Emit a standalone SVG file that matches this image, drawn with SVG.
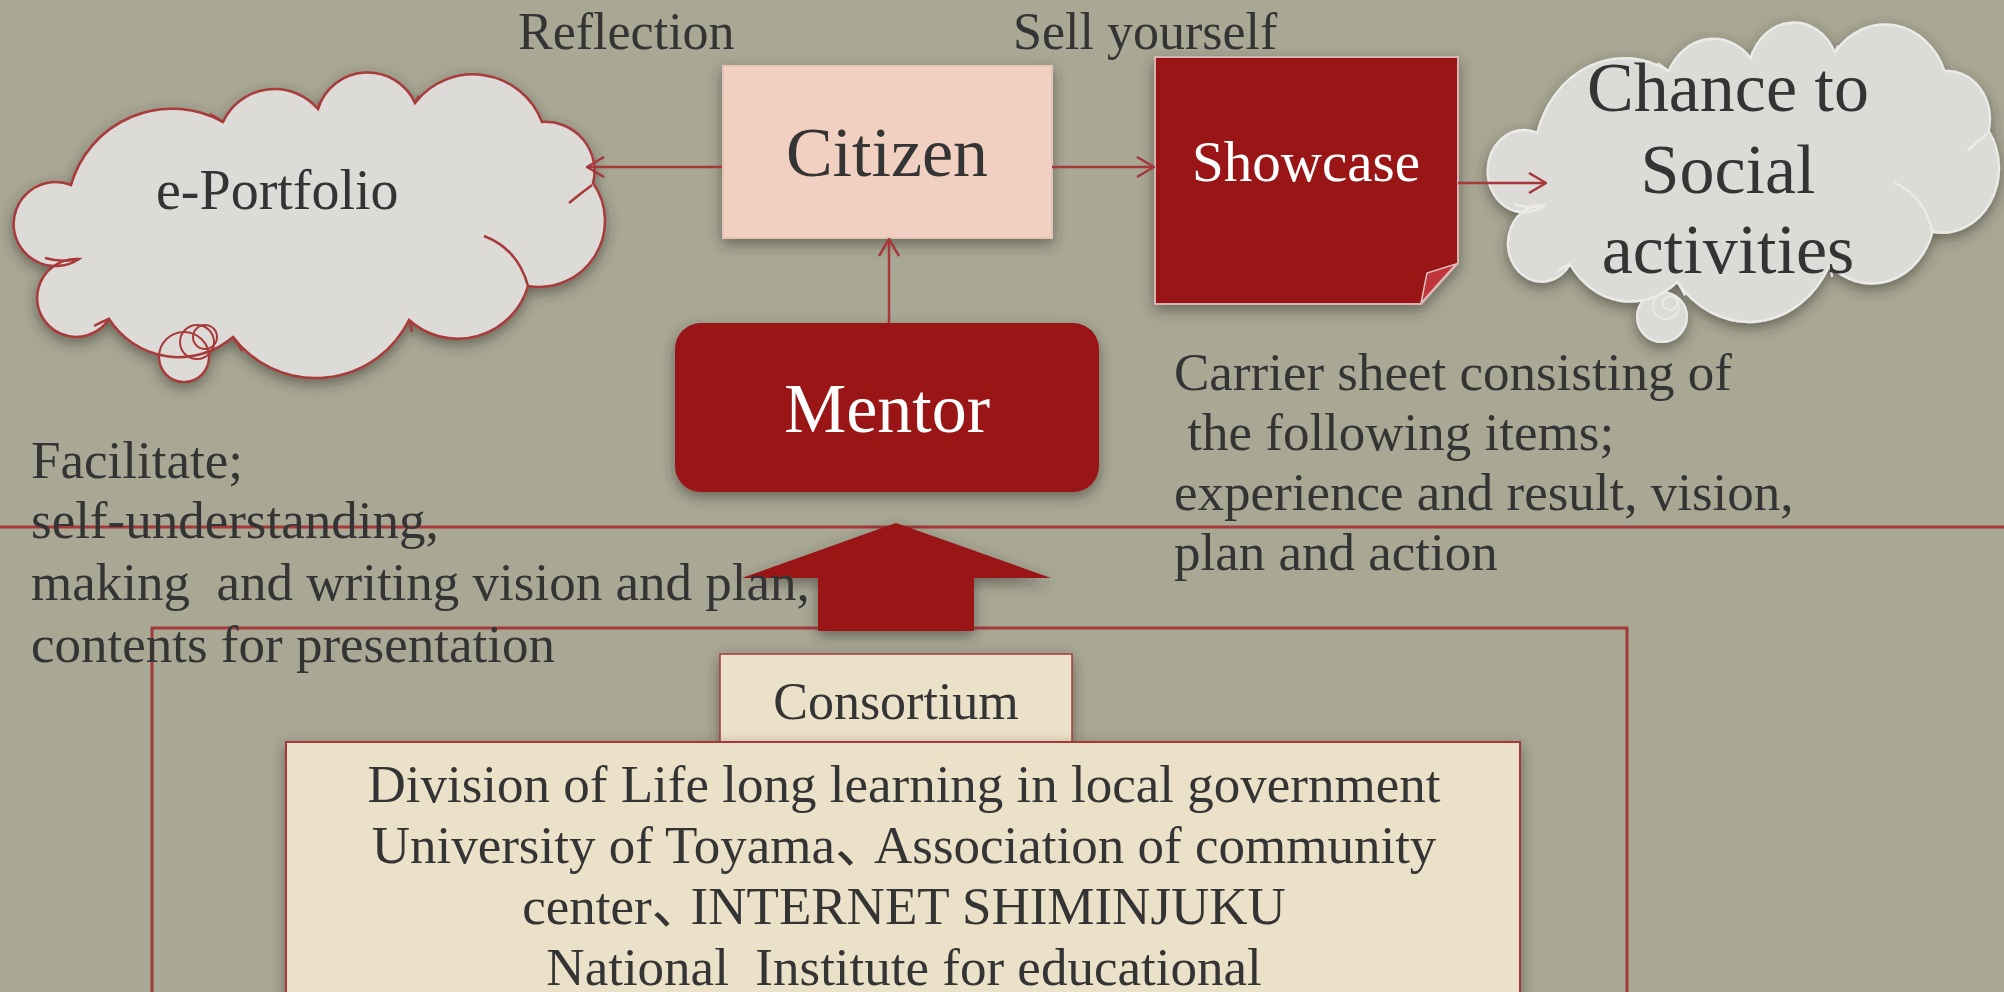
<svg xmlns="http://www.w3.org/2000/svg" xmlns:xlink="http://www.w3.org/1999/xlink" width="2004" height="992" viewBox="0 0 2004 992">
<style>
  .t { font-family: "Liberation Serif", "Noto Sans CJK JP", serif; fill: #343434; }
  .w { font-family: "Liberation Serif", "Noto Sans CJK JP", serif; fill: #ffffff; }
  .red { fill: #9a1218; }
  .beige { fill: #ebe0c8; stroke: #a5383b; }
  .conn { fill: none; stroke: #a5383b; stroke-width: 2.5; }
</style>
<defs>
  <filter id="sh" x="-20%" y="-20%" width="140%" height="160%">
    <feDropShadow dx="0" dy="5" stdDeviation="7" flood-color="#2e2d25" flood-opacity="0.55"/>
  </filter>
  <marker id="chev" viewBox="0 0 20 22" refX="19" refY="11" markerWidth="20" markerHeight="22" markerUnits="userSpaceOnUse" orient="auto">
    <path d="M2,1 L19,11 L2,21" fill="none" stroke="#a5383b" stroke-width="2.5"/>
  </marker>
  <path id="cloudPath" d="M58,108 A42,42 0 1 0 66,182 A39,39 0 1 0 96,242 A83,83 0 0 0 220,260 A104,104 0 0 0 396,243 A73,73 0 0 0 515,209 A66,66 0 0 0 580,106 A49,49 0 0 0 529,45 A73.5,73.5 0 0 0 402,26 A52,52 0 0 0 305,32 A57,57 0 0 0 210,45 A105,105 0 0 0 58,108 Z"/>
  <path id="cloudInner" d="M32,181 Q50,186 66,182 M96,242 Q88,245 81,249 M220,260 Q225,267 229,274 M396,243 Q398,249 399,255 M471,159 Q505,172 515,209 M579,108 Q567,117 556,126 M402,26 Q404,22 406,19 M305,32 Q306,28 307,25 M210,45 Q203,40 197,37"/>
</defs>

<g id="background">
  <rect x="0" y="0" width="2004" height="992" fill="#a9a895"/>
</g>

<g id="divider">
  <line x1="0" y1="527" x2="2004" y2="527" stroke="#a5383b" stroke-width="3"/>
  <rect x="152" y="628" width="1475" height="420" fill="none" stroke="#a5383b" stroke-width="3"/>
</g>

<g id="cloud-eportfolio">
  <g filter="url(#sh)">
    <circle cx="184" cy="357" r="25" fill="#dcdbd8" stroke="#a83a3a" stroke-width="2"/>
    <g transform="translate(13,77)">
      <use xlink:href="#cloudPath" fill="#dcdbd8" stroke="#a83a3a" stroke-width="2.5"/>
    </g>
  </g>
  <g transform="translate(13,77)">
    <use xlink:href="#cloudInner" fill="none" stroke="#a83a3a" stroke-width="2.5"/>
  </g>
  <circle cx="184" cy="357" r="25" fill="none" stroke="#a83a3a" stroke-width="2"/>
  <circle cx="197" cy="342" r="17" fill="none" stroke="#a83a3a" stroke-width="2"/>
  <circle cx="205" cy="337" r="12" fill="none" stroke="#a83a3a" stroke-width="2"/>
  <text class="t" x="156" y="209" font-size="56">e-Portfolio</text>
</g>

<g id="cloud-chance">
  <g filter="url(#sh)">
    <circle cx="1662" cy="317" r="25" fill="#dcdbd8" stroke="#ebebe8" stroke-width="2"/>
    <g transform="translate(1487,27) scale(0.865,0.98)">
      <use xlink:href="#cloudPath" fill="#dcdbd8" stroke="#ebebe8" stroke-width="2.5" vector-effect="non-scaling-stroke"/>
    </g>
  </g>
  <g transform="translate(1487,27) scale(0.865,0.98)" fill="none" stroke="#ebebe8" stroke-width="2.5">
    <use xlink:href="#cloudInner"/>
  </g>
  <circle cx="1666" cy="306" r="13" fill="none" stroke="#ebebe8" stroke-width="1.5"/>
  <circle cx="1670" cy="303" r="7" fill="none" stroke="#ebebe8" stroke-width="1.5"/>
  <text class="t" x="1728" y="111" font-size="70" text-anchor="middle">Chance to</text>
  <text class="t" x="1728" y="193" font-size="70" text-anchor="middle">Social</text>
  <text class="t" x="1728" y="273" font-size="70" text-anchor="middle">activities</text>
</g>

<g id="node-citizen">
  <rect x="723" y="66" width="329" height="172" fill="#f2d0c1" stroke="#e3c5b8" stroke-width="2" filter="url(#sh)"/>
  <text class="t" x="887" y="176" font-size="70" text-anchor="middle">Citizen</text>
</g>

<g id="node-showcase">
  <path d="M1155,57 H1458 V263 L1421,304 H1155 Z" class="red" stroke="#d7b3b3" stroke-width="2" filter="url(#sh)"/>
  <path d="M1421,303 L1427,273 L1456,264 Z" fill="#c0343a" stroke="#e0c0c0" stroke-width="1.5"/>
  <text class="w" x="1306" y="181" font-size="57" text-anchor="middle">Showcase</text>
</g>

<g id="node-mentor">
  <rect x="675" y="323" width="424" height="169" rx="26" class="red" filter="url(#sh)"/>
  <text class="w" x="887" y="432" font-size="70" text-anchor="middle">Mentor</text>
</g>

<g id="labels">
  <text class="t" x="518" y="49" font-size="52">Reflection</text>
  <text class="t" x="1013" y="49" font-size="52">Sell yourself</text>
</g>

<g id="connectors">
  <line x1="722" y1="167" x2="587" y2="167" class="conn" marker-end="url(#chev)"/>
  <line x1="1052" y1="167" x2="1154" y2="167" class="conn" marker-end="url(#chev)"/>
  <line x1="1458" y1="183" x2="1546" y2="183" class="conn" marker-end="url(#chev)"/>
  <line x1="889" y1="323" x2="889" y2="239" class="conn" marker-end="url(#chev)"/>
</g>

<g id="big-arrow">
  <polygon points="896,523 1051,578 974,578 974,631 818,631 818,578 742,578" class="red" filter="url(#sh)"/>
</g>

<g id="node-consortium">
  <rect x="720" y="654" width="352" height="89" class="beige" stroke-width="1.5" filter="url(#sh)"/>
  <text class="t" x="896" y="719" font-size="52" text-anchor="middle">Consortium</text>
</g>

<g id="node-members">
  <rect x="286" y="742" width="1234" height="280" class="beige" stroke-width="2" filter="url(#sh)"/>
  <text class="t" x="904" y="802" font-size="53" text-anchor="middle">Division of Life long learning in local government</text>
  <text class="t" x="904" y="863" font-size="53" text-anchor="middle">University of Toyama、<tspan dx="-14">Association of community</tspan></text>
  <text class="t" x="904" y="924" font-size="53" text-anchor="middle">center、<tspan dx="-14">INTERNET SHIMINJUKU</tspan></text>
  <text class="t" x="904" y="985" font-size="53" text-anchor="middle" xml:space="preserve">National  Institute for educational</text>
</g>

<g id="text-facilitate">
  <text class="t" x="31" y="478" font-size="53">Facilitate;</text>
  <text class="t" x="31" y="538" font-size="53">self-understanding,</text>
  <text class="t" x="31" y="600" font-size="53" xml:space="preserve">making  and writing vision and plan,</text>
  <text class="t" x="31" y="662" font-size="53">contents for presentation</text>
</g>

<g id="text-carrier">
  <text class="t" x="1174" y="390" font-size="53">Carrier sheet consisting of</text>
  <text class="t" x="1174" y="450" font-size="53" xml:space="preserve"> the following items;</text>
  <text class="t" x="1174" y="510" font-size="53">experience and result, vision,</text>
  <text class="t" x="1174" y="570" font-size="53">plan and action</text>
</g>
</svg>
